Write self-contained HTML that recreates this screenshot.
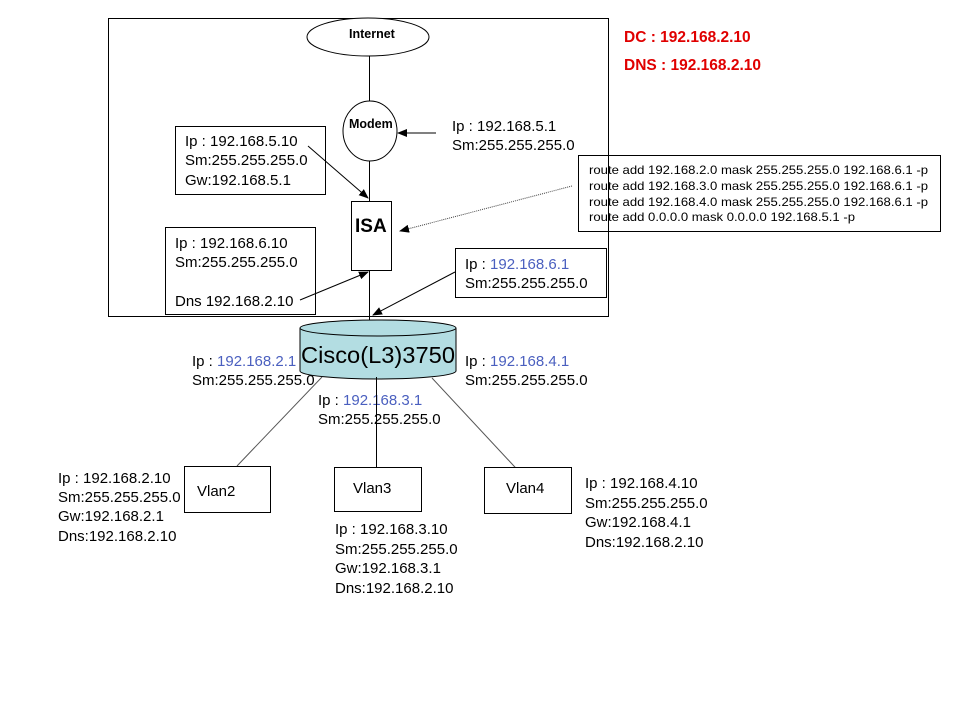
<!DOCTYPE html>
<html><head><meta charset="utf-8"><style>
html,body{margin:0;padding:0;background:#fff;}
svg{display:block;}
text{font-family:"Liberation Sans",Arial,sans-serif;font-size:15px;fill:#000;}
.b{fill:#4a5fbf;}
.r{fill:#e00000;font-weight:bold;font-size:15.5px;}
.s{font-size:12px;}
</style></head><body>
<svg width="960" height="720" viewBox="0 0 960 720" xmlns="http://www.w3.org/2000/svg">
<defs>
<marker id="a" markerWidth="10" markerHeight="8" refX="9" refY="4" orient="auto" markerUnits="userSpaceOnUse"><path d="M0,0 L10,4 L0,8 z" fill="#000"/></marker>
</defs>
<rect x="108.5" y="18.5" width="500" height="298" fill="none" stroke="#000"/>
<ellipse cx="368" cy="37" rx="61" ry="19" fill="#fff" stroke="#000"/>
<text x="349" y="38" style="font-weight:bold;font-size:12.5px">Internet</text>
<line x1="369.5" y1="56" x2="369.5" y2="101" stroke="#000"/>
<ellipse cx="370" cy="131" rx="27" ry="30" fill="#fff" stroke="#000"/>
<text x="349" y="128" style="font-weight:bold;font-size:12.5px">Modem</text>
<line x1="369.5" y1="161" x2="369.5" y2="201" stroke="#000"/>
<rect x="351.5" y="201.5" width="40" height="69" fill="#fff" stroke="#000"/>
<text x="355" y="232" style="font-weight:bold;font-size:19px">ISA</text>
<line x1="369.5" y1="271" x2="369.5" y2="320" stroke="#000"/>
<line x1="436" y1="133" x2="398" y2="133" stroke="#000" marker-end="url(#a)"/>
<text x="452" y="131">Ip :  192.168.5.1</text>
<text x="452" y="150">Sm:255.255.255.0</text>
<rect x="175.5" y="126.5" width="150" height="68" fill="#fff" stroke="#000"/>
<text x="185" y="146">Ip : 192.168.5.10</text>
<text x="185" y="165">Sm:255.255.255.0</text>
<text x="185" y="185">Gw:192.168.5.1</text>
<line x1="308" y1="146" x2="368" y2="198" stroke="#000" marker-end="url(#a)"/>
<rect x="165.5" y="227.5" width="150" height="87" fill="#fff" stroke="#000"/>
<text x="175" y="248">Ip : 192.168.6.10</text>
<text x="175" y="267">Sm:255.255.255.0</text>
<text x="175" y="306">Dns 192.168.2.10</text>
<line x1="300" y1="300" x2="368" y2="272" stroke="#000" marker-end="url(#a)"/>
<rect x="455.5" y="248.5" width="151" height="49" fill="#fff" stroke="#000"/>
<text x="465" y="269">Ip : <tspan class="b">192.168.6.1</tspan></text>
<text x="465" y="288">Sm:255.255.255.0</text>
<line x1="455" y1="272" x2="373" y2="315" stroke="#000" marker-end="url(#a)"/>
<rect x="578.5" y="155.5" width="362" height="76" fill="#fff" stroke="#000"/>
<line x1="608.5" y1="150" x2="608.5" y2="240" stroke="#000"/>
<text class="s" x="589" y="174" textLength="339" lengthAdjust="spacingAndGlyphs">route add 192.168.2.0 mask 255.255.255.0 192.168.6.1 -p</text>
<text class="s" x="589" y="190" textLength="339" lengthAdjust="spacingAndGlyphs">route add 192.168.3.0 mask 255.255.255.0 192.168.6.1 -p</text>
<text class="s" x="589" y="206" textLength="339" lengthAdjust="spacingAndGlyphs">route add 192.168.4.0 mask 255.255.255.0 192.168.6.1 -p</text>
<text class="s" x="589" y="221" textLength="266" lengthAdjust="spacingAndGlyphs">route add 0.0.0.0 mask 0.0.0.0 192.168.5.1 -p</text>
<line x1="572" y1="186" x2="400" y2="231" stroke="#444" stroke-dasharray="1,1" marker-end="url(#a)"/>
<text class="r" x="624" y="42">DC : 192.168.2.10</text>
<text class="r" x="624" y="70">DNS : 192.168.2.10</text>
<path d="M300,328 L300,371 A78,8 0 0 0 456,371 L456,328" fill="#b3dde2" stroke="#000"/>
<ellipse cx="378" cy="328" rx="78" ry="8" fill="#b3dde2" stroke="#000"/>
<text x="301" y="363" style="font-size:23px" textLength="154" lengthAdjust="spacingAndGlyphs">Cisco(L3)3750</text>
<text x="192" y="366">Ip : <tspan class="b">192.168.2.1</tspan></text>
<text x="192" y="385">Sm:255.255.255.0</text>
<text x="465" y="366">Ip : <tspan class="b">192.168.4.1</tspan></text>
<text x="465" y="385">Sm:255.255.255.0</text>
<text x="318" y="405">Ip : <tspan class="b">192.168.3.1</tspan></text>
<text x="318" y="424">Sm:255.255.255.0</text>
<line x1="322" y1="377" x2="237" y2="466" stroke="#555"/>
<line x1="376.5" y1="377" x2="376.5" y2="467" stroke="#000"/>
<line x1="432" y1="378" x2="526" y2="479" stroke="#555"/>
<rect x="184.5" y="466.5" width="86" height="46" fill="#fff" stroke="#000"/>
<text x="197" y="496">Vlan2</text>
<rect x="334.5" y="467.5" width="87" height="44" fill="#fff" stroke="#000"/>
<text x="353" y="493">Vlan3</text>
<rect x="484.5" y="467.5" width="87" height="46" fill="#fff" stroke="#000"/>
<text x="506" y="493">Vlan4</text>
<text x="58" y="483">Ip : 192.168.2.10</text>
<text x="58" y="502">Sm:255.255.255.0</text>
<text x="58" y="521">Gw:192.168.2.1</text>
<text x="58" y="541">Dns:192.168.2.10</text>
<text x="335" y="534">Ip : 192.168.3.10</text>
<text x="335" y="554">Sm:255.255.255.0</text>
<text x="335" y="573">Gw:192.168.3.1</text>
<text x="335" y="593">Dns:192.168.2.10</text>
<text x="585" y="488">Ip : 192.168.4.10</text>
<text x="585" y="508">Sm:255.255.255.0</text>
<text x="585" y="527">Gw:192.168.4.1</text>
<text x="585" y="547">Dns:192.168.2.10</text>
</svg>
</body></html>
